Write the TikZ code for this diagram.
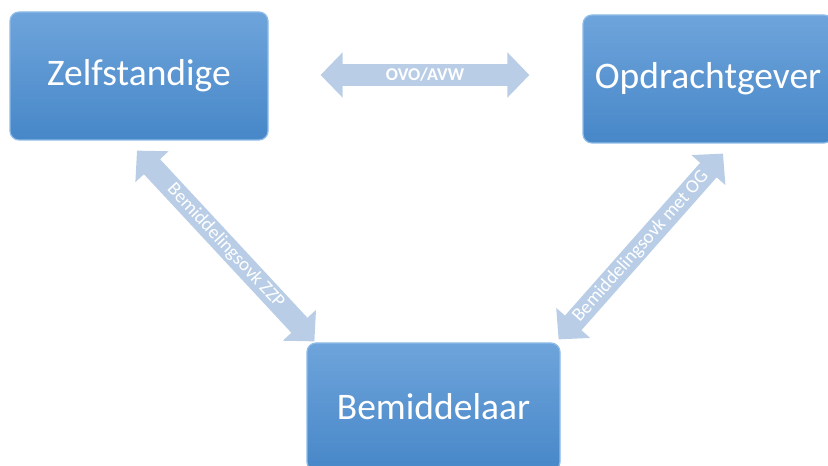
\documentclass[tikz,border=0pt]{standalone}
\usepackage{fontspec}
\setmainfont{Carlito}
\usetikzlibrary{arrows.meta}
\definecolor{boxtop}{HTML}{6EA4DB}
\definecolor{boxbot}{HTML}{4787C8}
\definecolor{boxrim}{HTML}{8EBCE8}
\definecolor{arrfill}{HTML}{B9CEE6}
\tikzset{
  box/.style={rounded corners=9pt, top color=boxtop, bottom color=boxbot,
    draw=boxrim, line width=1.2pt, text=white, font=\fontsize{37.5}{37.5}\selectfont,
    minimum height=128pt, inner sep=0pt},
  conn/.style={draw=arrfill, line width=22pt,
    {Triangle[length=22pt,width=44pt]}-{Triangle[length=22pt,width=44pt]}},
  lab/.style={text=white, font=\fontsize{19}{19}\selectfont, inner sep=0pt}
}
\begin{document}
\begin{tikzpicture}[x=1pt,y=1pt]
\clip (0,0) rectangle (828,466);
\fill[white] (0,0) rectangle (828,466);
\node[box, minimum width=258pt] (z) at (139,390) {Zelfstandige};
\node[box, minimum width=250pt] (o) at (708,387) {Opdrachtgever};
\node[box, minimum width=253pt] (b) at (433.5,59) {Bemiddelaar};
\coordinate (h1) at ([shift={(52,1)}]z.east);
\coordinate (h2) at ([shift={(-53,4)}]o.west);
\coordinate (d1) at ([shift={(-2,-10)}]z.south);
\coordinate (d2) at ([shift={(8,1)}]b.north west);
\coordinate (e1) at ([shift={(-2,3)}]b.north east);
\coordinate (e2) at ([shift={(15,-10)}]o.south);
\draw[conn] (h1) -- node[lab, font=\bfseries\fontsize{18}{18}\selectfont] {OVO/AVW} (h2);
\draw[conn] (d1) -- node[lab, sloped] {Bemiddelingsovk ZZP} (d2);
\draw[conn] (e1) -- node[lab, sloped] {Bemiddelingsovk met OG} (e2);
\end{tikzpicture}
\end{document}
